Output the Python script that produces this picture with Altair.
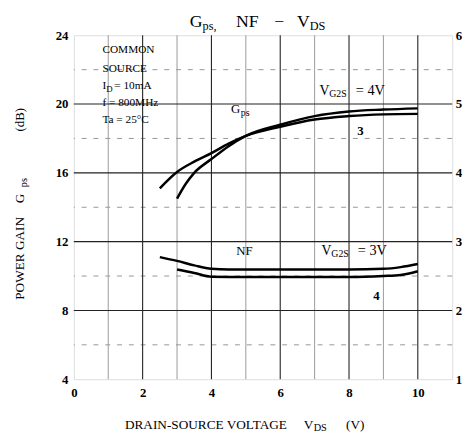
import altair as alt
import pandas as pd

SERIF = "Liberation Serif"

# ---------------- data ----------------
# Power gain Gps (dB, left axis) vs VDS (V)
gps_3v_vds = [2.5, 3.0, 3.5, 4.0, 4.5, 5.0, 6.0, 7.0, 8.0, 9.0, 10.0]
gps_3v_val = [15.1, 16.05, 16.65, 17.15, 17.7, 18.15, 18.68, 19.1, 19.3, 19.4, 19.43]
gps_4v_vds = [3.0, 3.25, 3.5, 4.0, 4.5, 5.0, 6.0, 7.0, 8.0, 9.0, 10.0]
gps_4v_val = [14.5, 15.35, 16.0, 16.8, 17.55, 18.15, 18.8, 19.3, 19.57, 19.68, 19.75]

# Noise figure NF (dB, right axis) vs VDS (V)
nf_3v_vds = [2.5, 3.0, 3.5, 4.0, 4.5, 5.0, 6.0, 7.0, 8.0, 9.0, 9.5, 10.0]
nf_3v_val = [2.775, 2.72, 2.655, 2.605, 2.595, 2.595, 2.595, 2.595, 2.595, 2.605, 2.63, 2.675]
nf_4v_vds = [3.0, 3.5, 4.0, 5.0, 6.0, 7.0, 8.0, 9.0, 9.5, 10.0]
nf_4v_val = [2.595, 2.545, 2.49, 2.485, 2.485, 2.485, 2.485, 2.5, 2.515, 2.57]

# axes / grid
x_ticks = [0, 2, 4, 6, 8, 10]
yl_ticks = [4, 8, 12, 16, 20, 24]
yr_ticks = [1, 2, 3, 4, 5, 6]
xgrid_major = [2, 4, 6, 8, 10]
xgrid_minor = [1, 3, 5, 7, 9]
ygrid_major = [8, 12, 16, 20]
ygrid_minor = [6, 10, 14, 18, 22]

# --------------- scales / axes ---------------
xsc = alt.Scale(domain=[0, 11], nice=False, zero=False)
ysL = alt.Scale(domain=[4, 24], nice=False, zero=False)
ysR = alt.Scale(domain=[1, 6], nice=False, zero=False)

lab = dict(labelFont=SERIF, labelFontSize=13, labelColor="black", labelFontWeight="bold",
           grid=False, domain=False, ticks=False, title=None, labelFlush=False)
axX = alt.Axis(values=x_ticks, labelPadding=8, orient="bottom", **lab)
axL = alt.Axis(values=yl_ticks, labelPadding=6, orient="left", **lab)
axR = alt.Axis(values=yr_ticks, labelPadding=3, orient="right", **lab)


def X(field="x", axis=None):
    return alt.X(f"{field}:Q", scale=xsc, axis=axis)


def YL(field="y", axis=None):
    return alt.Y(f"{field}:Q", scale=ysL, axis=axis)


def tdata(x, y, size, text, weight="normal", align="left", dy=0, dx=0):
    df = pd.DataFrame({"x": [x], "y": [y], "t": [text]})
    return alt.Chart(df).mark_text(font=SERIF, fontSize=size, fontWeight=weight, align=align,
                                   baseline="middle", dx=dx, dy=dy, color="black").encode(
        x=X(), y=YL(), text="t:N")


def tpix(x, y, size, text, weight="normal", align="left", angle=0):
    df = pd.DataFrame({"t": [text]})
    kw = dict(font=SERIF, fontSize=size, fontWeight=weight, align=align, baseline="middle", color="black")
    if angle:
        kw["angle"] = angle
    return alt.Chart(df).mark_text(**kw).encode(x=alt.value(x), y=alt.value(y), text="t:N")


# --------------- grid ---------------
vmaj = alt.Chart(pd.DataFrame({"x": xgrid_major})).mark_rule(color="#222", strokeWidth=1.1).encode(x=X("x", axX))
vmin = alt.Chart(pd.DataFrame({"x": xgrid_minor})).mark_rule(color="#9a9a9a", strokeWidth=1.0).encode(x=X())
hmaj = alt.Chart(pd.DataFrame({"y": ygrid_major})).mark_rule(color="#222", strokeWidth=1.1).encode(y=YL("y", axL))
hmin = alt.Chart(pd.DataFrame({"y": ygrid_minor})).mark_rule(color="#8a8a8a", strokeWidth=0.9,
                                                             strokeDash=[5, 7]).encode(y=YL())

# --------------- curves ---------------
gps_df = pd.concat([
    pd.DataFrame({"x": gps_3v_vds, "y": gps_3v_val, "s": "3V"}),
    pd.DataFrame({"x": gps_4v_vds, "y": gps_4v_val, "s": "4V"}),
])
nf_df = pd.concat([
    pd.DataFrame({"x": nf_3v_vds, "y": nf_3v_val, "s": "3V"}),
    pd.DataFrame({"x": nf_4v_vds, "y": nf_4v_val, "s": "4V"}),
])
gps_lines = alt.Chart(gps_df).mark_line(color="black", strokeWidth=2.5, interpolate="monotone").encode(
    x=X(), y=YL(), detail="s:N")
nf_lines = alt.Chart(nf_df).mark_line(color="black", strokeWidth=2.5, interpolate="monotone").encode(
    x=X(), y=alt.Y("y:Q", scale=ysR, axis=axR), detail="s:N")

# --------------- annotations (data coords) ---------------
ann = [
    tdata(0.83, 23.14, 11.5, "COMMON"),
    tdata(0.83, 22.06, 11.5, "SOURCE"),
    tdata(0.83, 21.03, 11.5, "I"),
    tdata(0.83, 21.03, 9, "D", dx=4, dy=3),
    tdata(0.83, 21.03, 11.5, "= 10mA", dx=12),
    tdata(0.83, 20.06, 11.5, "f = 800MHz"),
    tdata(0.83, 19.09, 11.5, "Ta = 25°C"),
    tdata(4.57, 19.7, 13, "G"),
    tdata(4.57, 19.7, 10, "ps", dx=10, dy=4),
    tdata(7.14, 20.75, 14, "V"),
    tdata(7.14, 20.75, 10, "G2S", dx=10, dy=3),
    tdata(7.14, 20.75, 14.5, "= 4V", dx=37),
    tdata(8.33, 18.45, 13, "3", "bold", align="center"),
    tdata(4.72, 11.43, 13, "NF"),
    tdata(7.2, 11.43, 14, "V"),
    tdata(7.2, 11.43, 10, "G2S", dx=10, dy=3),
    tdata(7.2, 11.43, 14.5, "= 3V", dx=37),
    tdata(8.8, 8.86, 13, "4", "bold", align="center"),
]

# --------------- titles (pixel coords relative to plot) ---------------
titles = [
    tpix(118, -13, 18, "G"),
    tpix(131, -9, 12.5, "ps,"),
    tpix(165, -13, 18, "NF"),
    tpix(204, -13, 18, "\u2212"),
    tpix(227, -13, 18, "V"),
    tpix(240, -9, 12.5, "DS"),
    tpix(52, 397, 13.5, "DRAIN-SOURCE VOLTAGE"),
    tpix(234, 397, 13.5, "V"),
    tpix(244, 400, 10.5, "DS"),
    tpix(277, 397, 13.5, "(V)"),
    tpix(-55, 227, 13.5, "POWER GAIN", align="center", angle=270),
    tpix(-55, 166, 13.5, "G", align="center", angle=270),
    tpix(-51, 150, 10.5, "ps", align="center", angle=270),
    tpix(-55, 86, 13, "(dB)", align="center", angle=270),
]

chart = alt.layer(hmin, vmin, vmaj, hmaj, gps_lines, nf_lines, *ann, *titles).resolve_scale(
    y="independent").resolve_axis(x="independent", y="independent").properties(
    width=385, height=350,
    autosize=alt.AutoSizeParams(type="none"),
    padding={"left": 67, "top": 24, "right": 12, "bottom": 53},
).configure_view(stroke="black", strokeWidth=1.8).configure(background="white")

chart.save("out.html", embed_options={"renderer": "svg", "actions": False})
